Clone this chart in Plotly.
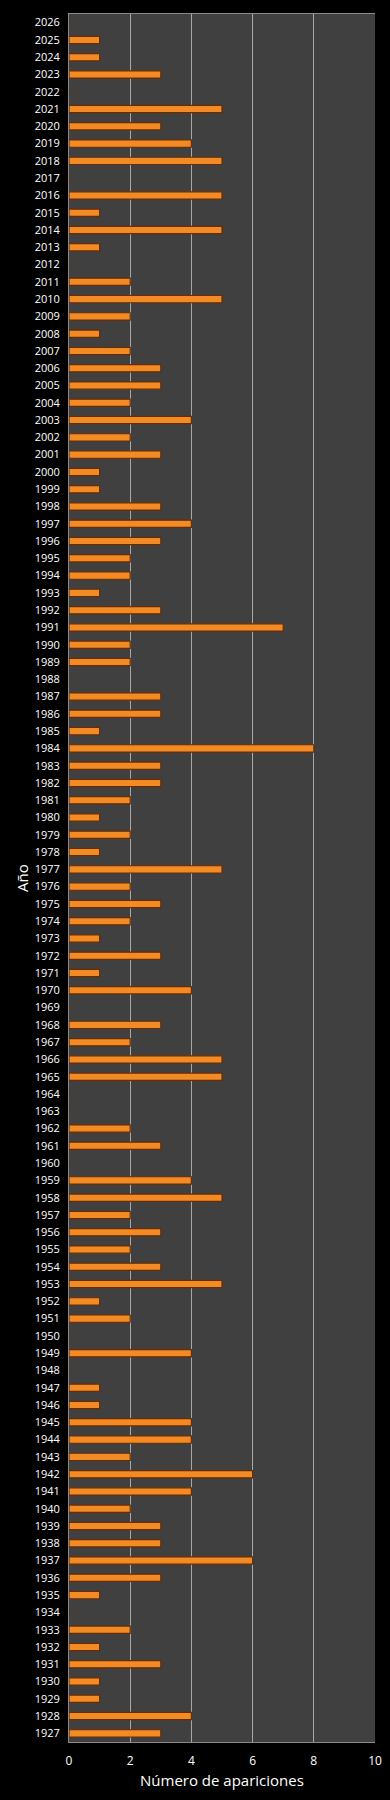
import plotly.graph_objects as go

years = [str(y) for y in range(1927, 2027)]
# values from 1927 to 2026
counts = [
    3, 4, 1, 1, 3, 1, 2, 0, 1, 3,   # 1927-1936
    6, 3, 3, 2, 4, 6, 2, 4, 4, 1,   # 1937-1946
    1, 0, 4, 0, 2, 1, 5, 3, 2, 3,   # 1947-1956
    2, 5, 4, 0, 3, 2, 0, 0, 5, 5,   # 1957-1966
    2, 3, 0, 4, 1, 3, 1, 2, 3, 2,   # 1967-1976
    5, 1, 2, 1, 2, 3, 3, 8, 1, 3,   # 1977-1986
    3, 0, 2, 2, 7, 3, 1, 2, 2, 3,   # 1987-1996
    4, 3, 1, 1, 3, 2, 4, 2, 3, 3,   # 1997-2006
    2, 1, 2, 5, 2, 0, 1, 5, 1, 5,   # 2007-2016
    0, 5, 4, 3, 5, 0, 3, 1, 1, 0,   # 2017-2026
]
x_ticks = [0, 2, 4, 6, 8, 10]

fig = go.Figure()
fig.add_trace(go.Bar(
    x=counts, y=years, orientation="h",
    marker=dict(color="#F28A26", line=dict(color="#6A2C00", width=1.2)),
    hoverinfo="x+y",
))

fig.update_layout(
    width=390, height=1800,
    margin=dict(l=69, r=15, t=14, b=58, autoexpand=False),
    paper_bgcolor="#000000",
    plot_bgcolor="#404040",
    bargap=0.58,
    showlegend=False,
    font=dict(family="Open Sans, sans-serif", color="#FFFFFF", size=11),
    annotations=[
        dict(text="Número de apariciones", xref="paper", yref="paper",
             x=0.5, y=0, yshift=-38, xanchor="center", yanchor="middle",
             showarrow=False, font=dict(size=15, color="#FFFFFF")),
        dict(text="Año", xref="paper", yref="paper",
             x=0, y=0.5, xshift=-47, xanchor="center", yanchor="middle",
             textangle=-90, showarrow=False, font=dict(size=15, color="#FFFFFF")),
    ],
)
fig.update_xaxes(
    range=[0, 10], tickvals=x_ticks, ticktext=[str(t) for t in x_ticks],
    automargin=False,
    showgrid=True, gridcolor="#A8A8A8", gridwidth=1,
    zeroline=False, showline=True, linecolor="#8A8A8A", mirror=True,
    ticks="", ticklabelstandoff=8,
    tickfont=dict(size=12, color="#FFFFFF"),
)
fig.update_yaxes(
    type="category", categoryorder="array", categoryarray=years,
    range=[-0.5, len(years) - 0.5],
    automargin=False,
    showgrid=False, zeroline=False, showline=True, linecolor="#8A8A8A",
    ticks="", ticklabelstandoff=6,
    tickfont=dict(size=11, color="#FFFFFF"),
)

fig.write_html(
    "out.html",
    config={"displayModeBar": False},
    post_script="document.body.style.margin='0';document.body.style.overflow='hidden';document.body.style.background='#000';",
)
